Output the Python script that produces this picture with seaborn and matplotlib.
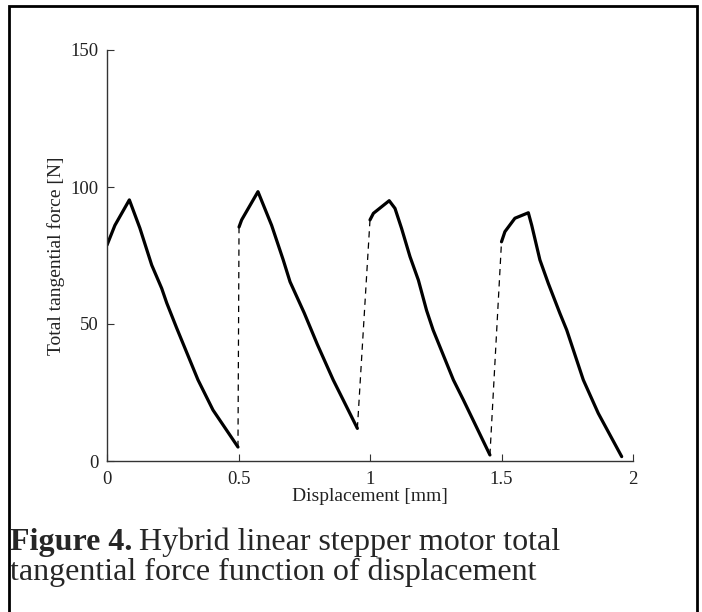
#--Import libraries--#
import pandas as pd
import seaborn as sns
import matplotlib.pyplot as plt
from matplotlib.patches import Rectangle

#--Data (displacement [mm], force [N])--#
seg1_x = [0.0, 0.03, 0.085, 0.125, 0.17, 0.208, 0.227, 0.265, 0.346, 0.403, 0.498]
seg1_y = [78.8, 86.0, 95.3, 85.0, 71.5, 63.0, 57.7, 48.5, 29.6, 18.6, 5.1]

seg2_x = [0.502, 0.512, 0.574, 0.626, 0.67, 0.696, 0.75, 0.80, 0.86, 0.898, 0.952]
seg2_y = [85.4, 88.0, 98.3, 86.0, 73.4, 65.4, 54.0, 42.5, 29.6, 22.3, 11.9]

seg3_x = [1.0, 1.013, 1.073, 1.095, 1.12, 1.152, 1.184, 1.215, 1.24, 1.317, 1.355, 1.456]
seg3_y = [88.0, 90.4, 95.0, 92.2, 84.9, 74.6, 66.0, 55.0, 47.8, 29.6, 22.3, 2.2]

seg4_x = [1.5, 1.513, 1.551, 1.602, 1.615, 1.646, 1.678, 1.722, 1.748, 1.811, 1.868, 1.957]
seg4_y = [80.0, 83.7, 88.6, 90.6, 86.0, 73.4, 64.8, 53.9, 47.8, 29.6, 17.4, 1.6]

segments = [(seg1_x, seg1_y), (seg2_x, seg2_y), (seg3_x, seg3_y), (seg4_x, seg4_y)]

x_ticks = [0, 0.5, 1, 1.5, 2]
x_labels = ['0', '0.5', '1', '1.5', '2']
y_ticks = [0, 50, 100, 150]

#--Style--#
sns.set_style('ticks')
plt.rcParams['font.family'] = ['Liberation Serif', 'DejaVu Serif']
plt.rcParams['xtick.direction'] = 'in'
plt.rcParams['ytick.direction'] = 'in'

fig = plt.figure(figsize=(7.02, 6.12), dpi=100)
ax = fig.add_axes([107 / 702, 1 - 461 / 612, (633 - 107) / 702, (461 - 50) / 612])

#--Solid force segments--#
for sx, sy in segments:
    df = pd.DataFrame({'x': sx, 'y': sy})
    sns.lineplot(data=df, x='x', y='y', ax=ax, color='black', linewidth=2.3,
                 sort=False, estimator=None)

#--Dashed jumps between segments--#
for (ax_, ay_), (bx_, by_) in zip(segments[:-1], segments[1:]):
    jump = pd.DataFrame({'x': [ax_[-1], bx_[0]], 'y': [ay_[-1], by_[0]]})
    sns.lineplot(data=jump, x='x', y='y', ax=ax, color='black', linewidth=0.9,
                 linestyle=(0, (5, 4)), sort=False, estimator=None)

ax.set_xlim(0, 2)
ax.set_ylim(0, 150)
ax.set_xticks(x_ticks)
ax.set_xticklabels(x_labels)
ax.set_yticks(y_ticks)
ax.tick_params(labelsize=13.5, length=5, width=0.8, color='#333333', labelcolor='#222222')
ax.tick_params(axis='x', pad=7)
ax.tick_params(axis='y', pad=6)
for side in ['top', 'right']:
    ax.spines[side].set_visible(False)
for side in ['left', 'bottom']:
    ax.spines[side].set_linewidth(1.0)
    ax.spines[side].set_color('#333333')
ax.set_xlabel('Displacement [mm]', fontsize=14, labelpad=0, color='#222222')
ax.set_ylabel('Total tangential force [N]', fontsize=14, labelpad=4, color='#222222')

#--Caption--#
cap_size = 23
t_bold = fig.text(10 / 702, 1 - 550 / 612, 'Figure 4.', fontsize=cap_size,
                  fontweight='bold', va='baseline')
fig.canvas.draw()
bb = t_bold.get_window_extent()
fig.text((bb.x1 + 7) / 702, 1 - 550 / 612, 'Hybrid linear stepper motor total',
         fontsize=cap_size, va='baseline')
fig.text(10 / 702, 1 - 580 / 612, 'tangential force function of displacement',
         fontsize=cap_size, va='baseline')

#--Outer frame--#
fig.add_artist(Rectangle((9 / 702, -0.05), (697 - 9) / 702, 1.05 - 6 / 612,
                         transform=fig.transFigure, fill=False, edgecolor='black',
                         linewidth=2))

fig.savefig('out.png', dpi=100)
